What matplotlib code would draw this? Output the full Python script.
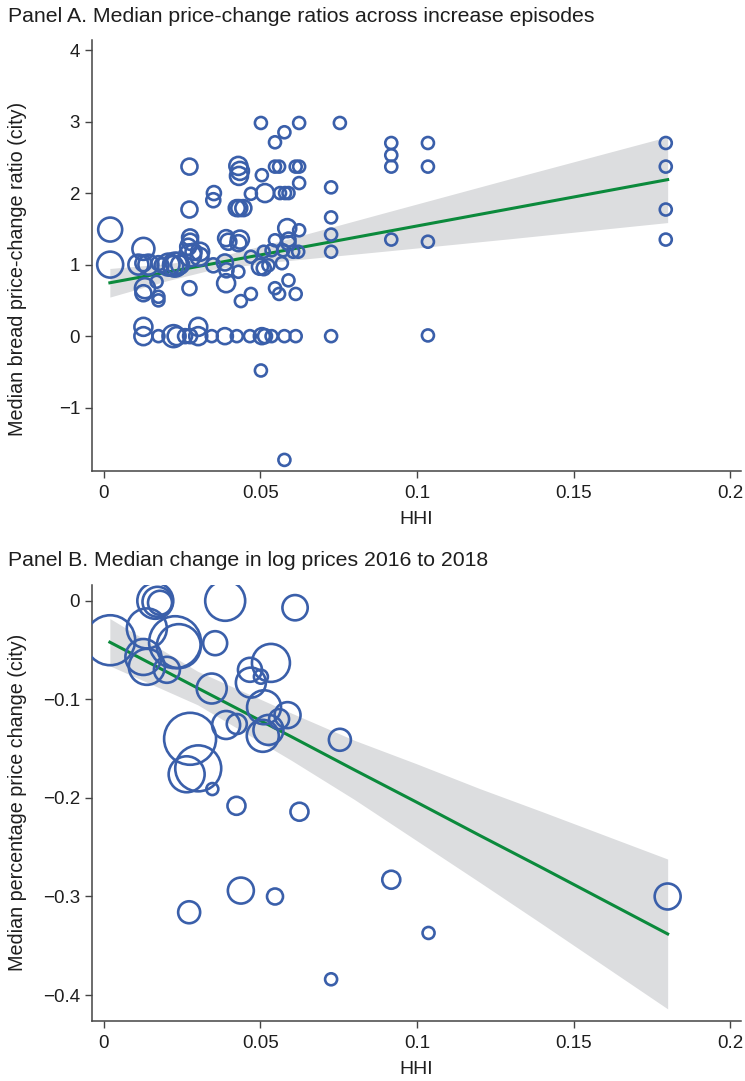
import numpy as np
import matplotlib
matplotlib.use("Agg")
import matplotlib.pyplot as plt
from matplotlib.ticker import FixedLocator, FuncFormatter

plt.rcParams["font.family"] = ["Liberation Sans", "DejaVu Sans"]

# ---------------------------------------------------------------------------
# Panel A: median price-change ratio vs HHI (weight ~ marker area)
# ---------------------------------------------------------------------------
a_hhi = [
    0.0502, 0.0624, 0.0754, 0.0577, 0.0547, 0.0274, 0.0430, 0.0435, 0.0432, 0.0505,
    0.0547, 0.0560, 0.0613, 0.0624, 0.0624, 0.0726, 0.0352, 0.0350, 0.0470, 0.0515,
    0.0563, 0.0579, 0.0590, 0.0274, 0.0425, 0.0433, 0.0446, 0.0021, 0.0021, 0.0586,
    0.0624, 0.0726, 0.0726, 0.0726, 0.0726, 0.0276, 0.0276, 0.0270, 0.0127, 0.0287,
    0.0308, 0.0391, 0.0398, 0.0435, 0.0430, 0.0547, 0.0590, 0.0590, 0.0511, 0.0536,
    0.0573, 0.0605, 0.0621, 0.0470, 0.0111, 0.0127, 0.0143, 0.0175, 0.0185, 0.0207,
    0.0228, 0.0244, 0.0276, 0.0306, 0.0350, 0.0387, 0.0392, 0.0430, 0.0499, 0.0511,
    0.0526, 0.0569, 0.0169, 0.0132, 0.0127, 0.0175, 0.0175, 0.0274, 0.0391, 0.0438,
    0.0470, 0.0547, 0.0560, 0.0590, 0.0613, 0.0127, 0.0127, 0.0175, 0.0223, 0.0233,
    0.0260, 0.0276, 0.0302, 0.0302, 0.0345, 0.0387, 0.0425, 0.0467, 0.0505, 0.0515,
    0.0536, 0.0577, 0.0613, 0.0502, 0.0577, 0.0918, 0.0918, 0.0918, 0.0918, 0.1035,
    0.1035, 0.1035, 0.1035, 0.1794, 0.1794, 0.1794, 0.1794, 0.0222, 0.0235,
]
a_ratio = [
    2.98, 2.98, 2.98, 2.85, 2.71, 2.37, 2.38, 2.31, 2.24, 2.25,
    2.37, 2.37, 2.37, 2.37, 2.14, 2.08, 2.00, 1.90, 1.99, 2.00,
    2.00, 2.00, 2.00, 1.77, 1.79, 1.79, 1.79, 1.49, 1.00, 1.51,
    1.48, 1.66, 1.42, 1.18, 0.00, 1.38, 1.32, 1.25, 1.22, 1.18,
    1.18, 1.37, 1.32, 1.35, 1.30, 1.34, 1.35, 1.30, 1.18, 1.20,
    1.20, 1.18, 1.18, 1.11, 1.00, 1.02, 1.00, 1.02, 0.99, 1.00,
    1.00, 1.00, 1.13, 1.11, 0.99, 1.03, 0.92, 0.90, 0.97, 0.95,
    0.99, 1.02, 0.76, 0.67, 0.60, 0.55, 0.50, 0.67, 0.74, 0.49,
    0.59, 0.67, 0.59, 0.78, 0.59, 0.00, 0.13, 0.00, 0.00, 0.00,
    0.00, 0.00, 0.00, 0.13, 0.00, 0.00, 0.00, 0.00, 0.00, 0.00,
    0.00, 0.00, 0.00, -0.48, -1.73, 2.70, 2.53, 2.37, 1.35, 2.70,
    2.37, 1.32, 0.01, 2.70, 2.37, 1.77, 1.35, 0.98, 1.01,
]
a_weight = [
    36, 36, 36, 36, 36, 64, 81, 81, 81, 36,
    36, 36, 36, 36, 36, 36, 49, 49, 36, 81,
    36, 36, 36, 64, 64, 64, 64, 144, 169, 81,
    36, 36, 36, 36, 36, 64, 64, 64, 121, 64,
    81, 64, 64, 81, 64, 36, 49, 49, 36, 36,
    36, 36, 36, 36, 100, 64, 100, 49, 49, 121,
    144, 81, 121, 81, 49, 64, 49, 36, 64, 49,
    36, 36, 36, 100, 64, 36, 36, 49, 81, 36,
    36, 36, 36, 36, 36, 81, 81, 36, 121, 81,
    49, 49, 81, 81, 36, 64, 36, 36, 64, 49,
    36, 36, 36, 36, 36, 36, 36, 36, 36, 36,
    36, 36, 36, 36, 36, 36, 36, 100, 121,
]

# fitted line and 95% band
a_fit_x = [0.002, 0.020, 0.035, 0.056, 0.090, 0.130, 0.180]
a_fit_y = [0.746, 0.892, 1.014, 1.184, 1.459, 1.783, 2.188]
a_ci_lo = [0.546, 0.772, 0.934, 1.044, 1.189, 1.363, 1.588]
a_ci_hi = [0.946, 1.012, 1.094, 1.324, 1.729, 2.203, 2.788]

# ---------------------------------------------------------------------------
# Panel B: median change in log prices 2016-2018 vs HHI
# ---------------------------------------------------------------------------
b_hhi = [
    0.0165, 0.0172, 0.0180, 0.0388, 0.0611, 0.0021, 0.0138, 0.0228, 0.0240, 0.0356,
    0.0127, 0.0138, 0.0202, 0.0467, 0.0502, 0.0534, 0.0470, 0.0345, 0.0512, 0.0587,
    0.0560, 0.0391, 0.0425, 0.0526, 0.0508, 0.0276, 0.0754, 0.0302, 0.0265, 0.0347,
    0.0424, 0.0625, 0.0918, 0.0438, 0.0547, 0.0273, 0.1037, 0.0726, 0.1800,
]
b_dlogp = [
    0.000, -0.001, -0.002, 0.000, -0.007, -0.040, -0.028, -0.042, -0.046, -0.043,
    -0.057, -0.067, -0.070, -0.070, -0.077, -0.063, -0.083, -0.089, -0.108, -0.116,
    -0.120, -0.126, -0.125, -0.131, -0.137, -0.140, -0.141, -0.170, -0.176, -0.191,
    -0.208, -0.214, -0.283, -0.294, -0.300, -0.316, -0.337, -0.384, -0.300,
]
b_weight = [
    324, 225, 144, 400, 160, 625, 400, 676, 484, 144,
    324, 324, 169, 144, 49, 361, 225, 225, 289, 169,
    100, 196, 100, 225, 256, 676, 121, 529, 324, 36,
    81, 81, 81, 169, 64, 121, 36, 36, 169,
]

b_fit_x = [0.002, 0.030, 0.060, 0.080, 0.100, 0.120, 0.140, 0.160, 0.180]
b_fit_y = [-0.042, -0.0885, -0.138, -0.1715, -0.2045, -0.238, -0.271, -0.3045, -0.338]
b_ci_lo = [-0.066, -0.1055, -0.162, -0.2015, -0.2435, -0.2855, -0.328, -0.371, -0.414]
b_ci_hi = [-0.018, -0.0715, -0.114, -0.1415, -0.1655, -0.1905, -0.214, -0.238, -0.262]

BLUE = "#3A5FAA"
GREEN = "#0B8A3C"
BAND = "#DCDDDF"
AXCOL = "#444444"
TXT = "#1E1E1E"


def fmt(v, _pos=None):
    s = "%g" % v
    return s.replace("-", "\u2212")


def panel(ax, x, y, w, fx, fy, lo, hi, ylim, yticks, ylabel, label_y=0.5):
    ax.fill_between(fx, lo, hi, color=BAND, lw=0, zorder=1)
    ax.plot(fx, fy, color=GREEN, lw=2.2, zorder=2)
    ax.scatter(x, y, s=np.asarray(w) * 2.07, facecolors="none",
               edgecolors=BLUE, linewidths=1.9, zorder=3)
    ax.set_xlim(-0.0037, 0.2034)
    ax.set_ylim(*ylim)
    ax.xaxis.set_major_locator(FixedLocator([0, 0.05, 0.1, 0.15, 0.2]))
    ax.yaxis.set_major_locator(FixedLocator(yticks))
    ax.xaxis.set_major_formatter(FuncFormatter(fmt))
    ax.yaxis.set_major_formatter(FuncFormatter(fmt))
    for side in ["top", "right"]:
        ax.spines[side].set_visible(False)
    for side in ["left", "bottom"]:
        ax.spines[side].set_color(AXCOL)
        ax.spines[side].set_linewidth(1.1)
    ax.tick_params(direction="out", length=5, width=1.0, color=AXCOL,
                   labelsize=13.5, labelcolor=TXT)
    ax.tick_params(axis="x", pad=5)
    ax.set_xlabel("HHI", fontsize=14, color=TXT)
    ax.set_ylabel(ylabel, fontsize=14.2, color=TXT)
    ax.xaxis.set_label_coords(0.5, -0.092)
    ax.yaxis.set_label_coords(-0.10, label_y)


fig = plt.figure(figsize=(7.45, 10.81), dpi=100)

ax_a = fig.add_axes([0.1235, 0.5643, 0.8711, 0.3987])
panel(ax_a, a_hhi, a_ratio, a_weight, a_fit_x, a_fit_y, a_ci_lo, a_ci_hi,
      (-1.885, 4.14), [-1, 0, 1, 2, 3, 4],
      "Median bread price-change ratio (city)", label_y=0.468)

ax_b = fig.add_axes([0.1235, 0.0558, 0.8711, 0.4030])
panel(ax_b, b_hhi, b_dlogp, b_weight, b_fit_x, b_fit_y, b_ci_lo, b_ci_hi,
      (-0.426, 0.016), [-0.4, -0.3, -0.2, -0.1, 0],
      "Median percentage price change (city)")

fig.text(0.011, 1 - 17 / 1081, "Panel A. Median price-change ratios across increase episodes",
         fontsize=15.3, color=TXT, va="center", ha="left")
fig.text(0.011, 1 - 560 / 1081, "Panel B. Median change in log prices 2016 to 2018",
         fontsize=15.3, color=TXT, va="center", ha="left")

fig.savefig("out.png", dpi=100)
